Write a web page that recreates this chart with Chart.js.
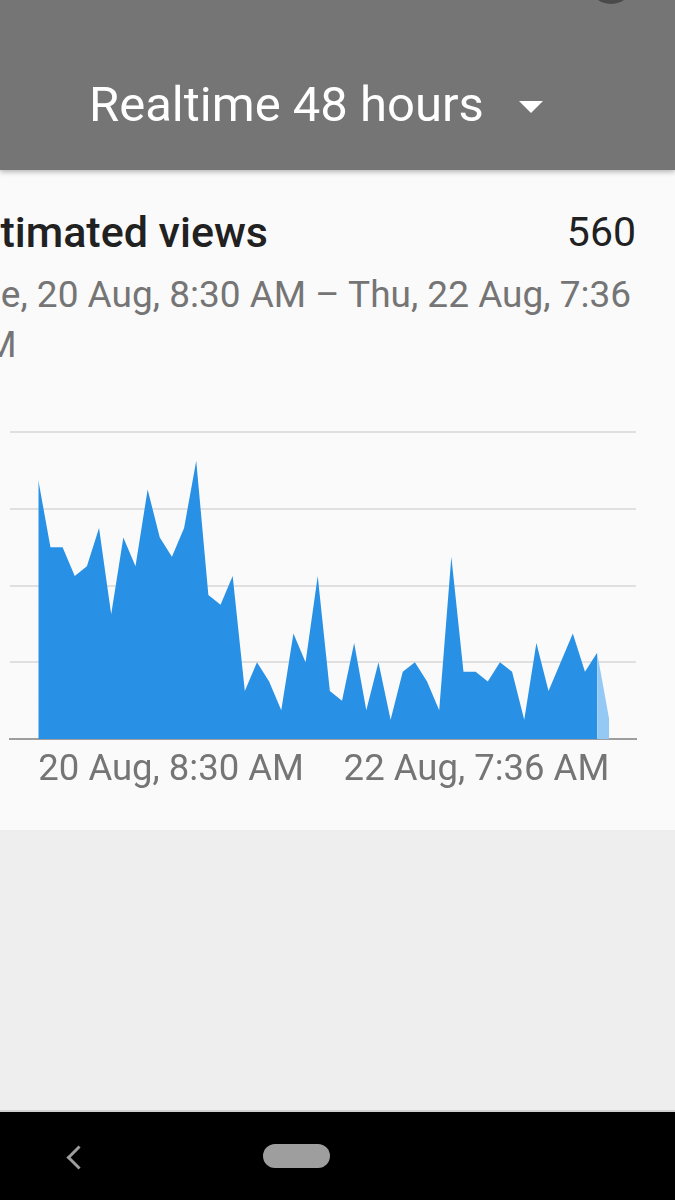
<!DOCTYPE html>
<html>
<head>
<meta charset="utf-8">
<script src="https://cdn.jsdelivr.net/npm/chart.js@4/dist/chart.umd.min.js"></script>
<style>
  html, body { margin: 0; padding: 0; }
  body {
    width: 675px; height: 1200px; overflow: hidden; position: relative;
    background: #eeeeee; font-family: Roboto, "Noto Sans", sans-serif;
  }
  .appbar {
    position: absolute; left: 0; top: 0; width: 675px; height: 170px;
    background: #757575; box-shadow: 0 2px 5px rgba(0,0,0,0.28); z-index: 2;
  }
  .avatar {
    position: absolute; left: 588px; top: -42px; width: 46px; height: 46px;
    border-radius: 50%; background: #4a4a4a;
  }
  .appbar .title {
    position: absolute; left: 89px; top: 80px; font-size: 49px; line-height: 49px;
    color: #ffffff; white-space: nowrap;
  }
  .caret {
    position: absolute; left: 519px; top: 101px; width: 0; height: 0;
    border-left: 12px solid transparent; border-right: 12px solid transparent;
    border-top: 12px solid #ffffff;
  }
  .card {
    position: absolute; left: 0; top: 170px; width: 675px; height: 660px;
    background: #fafafa; overflow: hidden;
  }
  .card .metric {
    position: absolute; left: -46px; top: 41px; font-size: 43px; line-height: 43px;
    font-weight: 500; color: #212121; white-space: nowrap;
  }
  .card .total {
    position: absolute; right: 39px; top: 42px; font-size: 41px; line-height: 41px;
    color: #212121;
  }
  .card .range {
    position: absolute; left: -40px; top: 100px; width: 682px; font-size: 37px;
    line-height: 50px; color: #757575;
  }
  #chart { position: absolute; left: 0; top: 230px; }
  .navbar {
    position: absolute; left: 0; top: 1110px; width: 675px; height: 90px;
    background: #000000; border-top: 2px solid #d0d0d0;
  }
  .back {
    position: absolute; left: 70px; top: 37px; width: 14px; height: 14px;
    border-left: 3px solid #9e9e9e; border-bottom: 3px solid #9e9e9e;
    transform: rotate(45deg);
  }
  .home {
    position: absolute; left: 263px; top: 32px; width: 67px; height: 24px;
    border-radius: 12px; background: #9e9e9e;
  }
</style>
</head>
<body>
<div class="appbar">
  <div class="avatar"></div>
  <div class="title">Realtime 48 hours</div>
  <div class="caret"></div>
</div>
<div class="card">
  <div class="metric">Estimated views</div>
  <div class="total">560</div>
  <div class="range">Tue, 20 Aug, 8:30 AM – Thu, 22 Aug, 7:36 AM</div>
  <canvas id="chart" width="675" height="410"></canvas>
</div>
<div class="navbar">
  <div class="back"></div>
  <div class="home"></div>
</div>
<script>
// hourly views, 20 Aug 8:30 AM -> 22 Aug 7:36 AM (last hour still in progress)
const hours = Array.from({ length: 48 }, (_, i) => i);
const views = [
  27, 20, 20, 17, 18, 22, 13, 21, 18, 26,
  21, 19, 22, 29, 15, 14, 17, 5, 8, 6,
  3, 11, 8, 17, 5, 4, 10, 3, 8, 2,
  7, 8, 6, 3, 19, 7, 7, 6, 8, 7,
  2, 10, 5, 8, 11, 7, 9, 2
];
const tickLabels = ['20 Aug, 8:30 AM', '22 Aug, 7:36 AM'];
const yTicks = [0, 8, 16, 24, 32];

const last = views.length - 1;
const complete = hours.slice(0, last).map(h => ({ x: h, y: views[h] }));
const partial = hours.slice(last - 1).map(h => ({ x: h, y: views[h] }));

new Chart(document.getElementById('chart'), {
  type: 'line',
  data: {
    datasets: [
      { data: complete, fill: 'origin', backgroundColor: '#2891e5', borderWidth: 0, pointRadius: 0, tension: 0 },
      { data: partial, fill: 'origin', backgroundColor: '#93c9f4', borderWidth: 0, pointRadius: 0, tension: 0 },
    ],
  },
  options: {
    responsive: false,
    animation: false,
    devicePixelRatio: 1,
    layout: { padding: { left: 10, right: 39, top: 32, bottom: 0 } },
    plugins: { legend: { display: false }, tooltip: { enabled: false } },
    scales: {
      x: {
        type: 'linear',
        min: -2.33,
        max: 49.2,
        afterBuildTicks: (scale) => { scale.ticks = [{ value: 0 }, { value: last }]; },
        afterFit: (scale) => { scale.height = 71; },
        grid: { display: false, drawTicks: false },
        border: { display: true, color: '#9e9e9e', width: 2 },
        ticks: {
          autoSkip: false,
          maxRotation: 0,
          align: 'inner',
          padding: 10,
          color: '#757575',
          font: { family: 'Roboto', size: 36.5 },
          callback: (v, i) => tickLabels[i],
        },
      },
      y: {
        min: yTicks[0],
        max: yTicks[yTicks.length - 1],
        afterBuildTicks: (scale) => { scale.ticks = yTicks.map(v => ({ value: v })); },
        afterFit: (scale) => { scale.width = 0; },
        ticks: { display: false },
        border: { display: false },
        grid: {
          drawTicks: false,
          lineWidth: 2,
          color: (ctx) => ctx.tick && ctx.tick.value === 0 ? 'rgba(0,0,0,0)' : '#e0e0e0',
        },
      },
    },
  },
});
</script>
</body>
</html>
